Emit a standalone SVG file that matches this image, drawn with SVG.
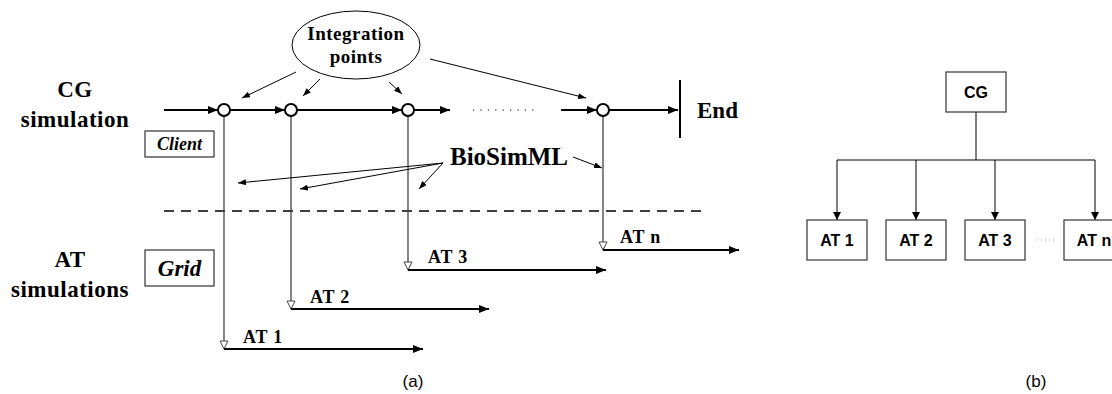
<svg xmlns="http://www.w3.org/2000/svg" width="1112" height="394" viewBox="0 0 1112 394">
<defs>
<style>
.serif{font-family:"Liberation Serif","Times New Roman",serif;font-weight:bold;fill:#000}
.sans{font-family:"Liberation Sans",Arial,sans-serif;font-weight:bold;fill:#000}
.cap{font-family:"Liberation Sans",Arial,sans-serif;font-weight:normal;fill:#000;font-size:17px}
.main{stroke:#000;stroke-width:2;fill:none}
.thin{stroke:#000;stroke-width:1;fill:none}
.drop{stroke:#444;stroke-width:1.3;fill:none}
.box{fill:#fff;stroke:#333;stroke-width:1.2}
.node{fill:#fff;stroke:#000;stroke-width:2}
</style>
<marker id="ah" viewBox="0 0 10 8" refX="10" refY="4" markerWidth="10" markerHeight="8" markerUnits="userSpaceOnUse" orient="auto"><path d="M0,0 L10,4 L0,8 z" fill="#000"/></marker>
<marker id="ahs" viewBox="0 0 8 6" refX="8" refY="3" markerWidth="8" markerHeight="6" markerUnits="userSpaceOnUse" orient="auto"><path d="M0,0 L8,3 L0,6 z" fill="#000"/></marker>
<marker id="ahb" viewBox="0 0 8 8" refX="8" refY="4" markerWidth="8" markerHeight="8" markerUnits="userSpaceOnUse" orient="auto"><path d="M0,0 L8,4 L0,8 z" fill="#000"/></marker>
<marker id="open" viewBox="-1 -1 10 10" refX="8" refY="4" markerWidth="10" markerHeight="10" markerUnits="userSpaceOnUse" orient="auto"><path d="M0,0 L8,4 L0,8 z" fill="#fff" stroke="#444" stroke-width="1"/></marker>
</defs>

<!-- Part (a) -->
<g id="labels-a">
<text class="serif" x="75" y="97" font-size="23" text-anchor="middle" letter-spacing="0.5">CG</text>
<text class="serif" x="75" y="127" font-size="23" text-anchor="middle" letter-spacing="0.5">simulation</text>
<text class="serif" x="70" y="267" font-size="23" text-anchor="middle" letter-spacing="0.5">AT</text>
<text class="serif" x="70" y="297" font-size="23" text-anchor="middle" letter-spacing="0.5">simulations</text>
<text class="serif" x="697" y="118" font-size="23">End</text>
<text class="serif" x="509" y="165" font-size="25" text-anchor="middle">BioSimML</text>
<text class="cap" x="413" y="387" text-anchor="middle">(a)</text>
</g>

<g id="client"><rect class="box" x="145" y="131" width="69" height="26"/><text class="serif" x="179.5" y="150" font-size="18" font-style="italic" text-anchor="middle">Client</text></g>
<g id="grid"><rect class="box" x="145" y="250" width="69" height="36"/><text class="serif" x="179.5" y="276" font-size="23" font-style="italic" text-anchor="middle">Grid</text></g>

<g id="integration-points"><ellipse cx="356" cy="45" rx="64" ry="34" fill="#fff" stroke="#000" stroke-width="1"/><text class="serif" x="356" y="40" font-size="19" text-anchor="middle" letter-spacing="0.5">Integration</text><text class="serif" x="356" y="63" font-size="19" text-anchor="middle" letter-spacing="0.5">points</text></g>

<g id="connectors">
<line class="main" x1="164" y1="110" x2="218" y2="110" marker-end="url(#ah)"/>
<line class="main" x1="230" y1="110" x2="285" y2="110" marker-end="url(#ah)"/>
<line class="main" x1="297" y1="110" x2="402" y2="110" marker-end="url(#ah)"/>
<line class="main" x1="414" y1="110" x2="450" y2="110" marker-end="url(#ah)"/>
<line x1="473" y1="110" x2="535" y2="110" stroke="#000" stroke-width="1.2" stroke-dasharray="1.2 6.2"/>
<line class="main" x1="561" y1="110" x2="597" y2="110" marker-end="url(#ah)"/>
<line class="main" x1="609" y1="110" x2="678" y2="110" marker-end="url(#ah)"/>
<line class="main" x1="680" y1="80" x2="680" y2="138"/>
<line x1="164" y1="211" x2="702" y2="211" stroke="#000" stroke-width="1.5" stroke-dasharray="10 7"/>
<line class="drop" x1="224" y1="116" x2="224" y2="349" marker-end="url(#open)"/>
<line class="drop" x1="291" y1="116" x2="291" y2="309" marker-end="url(#open)"/>
<line class="drop" x1="408" y1="116" x2="408" y2="270" marker-end="url(#open)"/>
<line class="drop" x1="603" y1="116" x2="603" y2="250" marker-end="url(#open)"/>
<line class="main" x1="224" y1="349" x2="423" y2="349" marker-end="url(#ah)"/>
<line class="main" x1="291" y1="309" x2="489" y2="309" marker-end="url(#ah)"/>
<line class="main" x1="408" y1="270" x2="606" y2="270" marker-end="url(#ah)"/>
<line class="main" x1="603" y1="250" x2="739" y2="250" marker-end="url(#ah)"/>
<line class="thin" x1="296" y1="72" x2="242" y2="98" marker-end="url(#ahs)"/>
<line class="thin" x1="320" y1="79" x2="303" y2="96" marker-end="url(#ahs)"/>
<line class="thin" x1="389" y1="82" x2="402" y2="94" marker-end="url(#ahs)"/>
<line class="thin" x1="430" y1="59" x2="586" y2="98" marker-end="url(#ahs)"/>
<line class="thin" x1="443" y1="163" x2="238" y2="183" marker-end="url(#ahs)"/>
<line class="thin" x1="443" y1="163" x2="300" y2="189" marker-end="url(#ahs)"/>
<line class="thin" x1="443" y1="163" x2="419" y2="189" marker-end="url(#ahs)"/>
<line class="thin" x1="573" y1="157" x2="602" y2="168" marker-end="url(#ahs)"/>
<line class="thin" x1="976" y1="112" x2="976" y2="160" stroke-width="1.3"/>
<line class="thin" x1="837" y1="160" x2="1095" y2="160" stroke-width="1.3"/>
<line class="thin" x1="837" y1="160" x2="837" y2="220" stroke-width="1.3" marker-end="url(#ahb)"/>
<line class="thin" x1="916" y1="160" x2="916" y2="220" stroke-width="1.3" marker-end="url(#ahb)"/>
<line class="thin" x1="995" y1="160" x2="995" y2="220" stroke-width="1.3" marker-end="url(#ahb)"/>
<line class="thin" x1="1095" y1="160" x2="1095" y2="220" stroke-width="1.3" marker-end="url(#ahb)"/>
</g>

<g id="ip1"><circle class="node" cx="224" cy="110" r="6"/></g>
<g id="ip2"><circle class="node" cx="291" cy="110" r="6"/></g>
<g id="ip3"><circle class="node" cx="408" cy="110" r="6"/></g>
<g id="ipn"><circle class="node" cx="603" cy="110" r="6"/></g>

<g id="at-labels-a">
<text class="serif" x="243" y="343" font-size="18" letter-spacing="0.8">AT 1</text>
<text class="serif" x="310" y="303" font-size="18" letter-spacing="0.8">AT 2</text>
<text class="serif" x="428" y="263" font-size="18" letter-spacing="0.8">AT 3</text>
<text class="serif" x="620" y="243" font-size="18" letter-spacing="0.8">AT n</text>
</g>

<!-- Part (b) -->
<g id="b-cg"><rect class="box" x="946" y="72" width="60" height="40"/><text class="sans" x="976" y="98" font-size="16" text-anchor="middle">CG</text></g>
<g id="b-at1"><rect class="box" x="807" y="220" width="60" height="40"/><text class="sans" x="837" y="246" font-size="16" text-anchor="middle">AT 1</text></g>
<g id="b-at2"><rect class="box" x="886" y="220" width="60" height="40"/><text class="sans" x="916" y="246" font-size="16" text-anchor="middle">AT 2</text></g>
<g id="b-at3"><rect class="box" x="965" y="220" width="60" height="40"/><text class="sans" x="995" y="246" font-size="16" text-anchor="middle">AT 3</text></g>
<g id="b-atn"><rect class="box" x="1064" y="220" width="60" height="40"/><text class="sans" x="1094" y="246" font-size="16" text-anchor="middle">AT n</text></g>
<line x1="1037" y1="240" x2="1054" y2="240" stroke="#aaa" stroke-width="1" stroke-dasharray="1 3"/>
<text class="cap" x="1036" y="387" text-anchor="middle">(b)</text>
</svg>
